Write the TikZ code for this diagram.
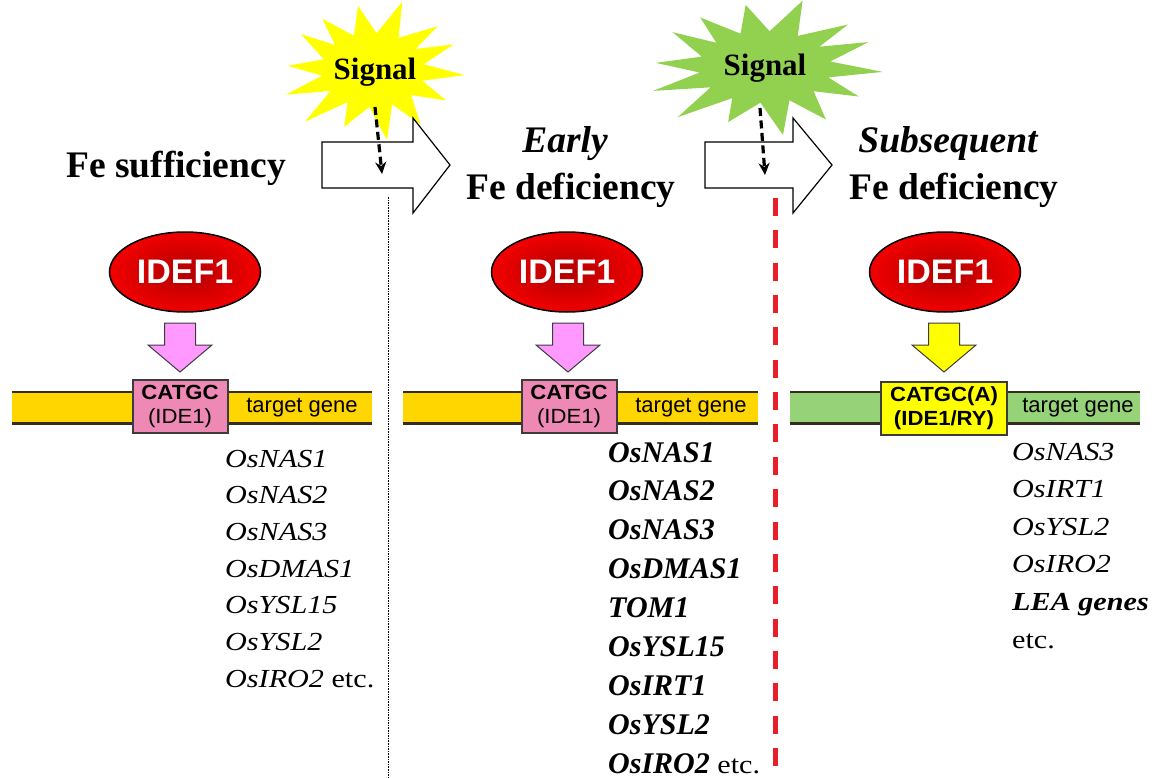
\documentclass[tikz,border=0pt]{standalone}
\usepackage{fontspec}
\setmainfont{Liberation Serif}
\setsansfont{Liberation Sans}
\newfontfamily\genefont[FakeStretch=1.16]{Liberation Serif}
\newfontfamily\motiffont[FakeStretch=1.08]{Liberation Sans}
\usetikzlibrary{shapes.geometric,arrows.meta}

\definecolor{sigyellow}{RGB}{255,255,0}
\definecolor{siggreen}{RGB}{146,208,80}
\definecolor{baryellow}{RGB}{255,214,0}
\definecolor{bargreen}{RGB}{150,210,120}
\definecolor{motifpink}{RGB}{238,136,180}
\definecolor{arrowpink}{RGB}{255,153,255}
\definecolor{boxline}{RGB}{60,60,60}
\definecolor{barline}{RGB}{50,45,30}
\definecolor{idefdark}{RGB}{176,0,0}
\definecolor{idefbright}{RGB}{242,0,0}
\definecolor{cutred}{RGB}{232,30,40}

% spiky burst: centre x, centre y, radius x, radius y, fill
\newcommand\sigburst[5]{%
  \fill[#5] plot[samples at={0,...,27}, variable=\k]
    ({#1 + (mod(\k,2)==0 ? #3*(1+0.10*sin(\k*151)) : 0.56*#3)*cos(\k*180/14+4)},
     {#2 + (mod(\k,2)==0 ? #4*(1+0.10*cos(\k*113)) : 0.56*#4)*sin(\k*180/14+4)}) -- cycle;}

% downward block arrow from the factor to its motif: centre x, fill
\newcommand\bindarrow[2]{%
  \draw[draw=boxline, line width=1, fill=#2]
    (#1-15.5,323) -- (#1+15.5,323) -- (#1+15.5,345) -- (#1+32,345) --
    (#1,372) -- (#1-32,345) -- (#1-15.5,345) -- cycle;}

% DNA strand: left x, right x, fill
\newcommand\genebar[3]{%
  \fill[#3] (#1,392) rectangle (#2,423);
  \draw[barline, line width=1.3] (#1,392) -- (#2,392);
  \draw[barline, line width=3] (#1,423) -- (#2,423);}

% wide white transition arrow: left x, neck x, tip x
\newcommand\phasearrow[3]{%
  \draw[black, line width=1.2, fill=white]
    (#1,142) -- (#2,142) -- (#2,118) -- (#3,165) -- (#2,213) -- (#2,188) -- (#1,188) -- cycle;}

\begin{document}
\begin{tikzpicture}[x=1pt, y=-1pt,
  title/.style={font=\fontsize{37.5}{40}\selectfont\bfseries, anchor=base, inner sep=0},
  signal/.style={font=\fontsize{31}{34}\selectfont\bfseries, inner sep=0},
  sigline/.style={line width=3.2, dash pattern=on 8pt off 4.5pt, -{Stealth[length=12pt, width=11pt, inset=4pt]}},
  idef/.style={ellipse, draw=black, line width=1.5, minimum width=151, minimum height=80,
    inner color=idefdark, outer color=idefbright, text=white,
    font=\sffamily\bfseries\fontsize{34}{36}\selectfont, inner sep=0},
  motif/.style={rectangle, draw=boxline, line width=2, minimum height=53, align=center,
    font=\motiffont\fontsize{20.5}{24}\selectfont, inner sep=0},
  tgt/.style={font=\sffamily\fontsize{22}{24}\selectfont, inner sep=0},
  gene/.style={font=\genefont\itshape\fontsize{26}{28}\selectfont, anchor=base west, inner sep=0},
  genebold/.style={font=\bfseries\itshape\fontsize{30}{32}\selectfont, anchor=base west, inner sep=0},
  sep/.style={line width=1, dash pattern=on 1.6pt off 1pt}
]
\useasboundingbox (0,0) rectangle (1166,778);

% ---- phase separators
\coordinate (sepA0) at (388,197);
\coordinate (sepA1) at (388,778);
\draw[sep] (sepA0) -- (sepA1);
\coordinate (sepB0) at (775,198);
\coordinate (sepB1) at (775,766);
\draw[cutred, line width=5, dash pattern=on 18pt off 14.35pt] (sepB0) -- (sepB1);

% ---- signals and transition arrows
\sigburst{373}{70}{92}{66}{sigyellow}
\sigburst{765}{67}{118}{64}{siggreen}
\phasearrow{322}{413}{450}
\phasearrow{705}{793}{832}
\node[signal] (sigA) at (375,72) {Signal};
\node[signal] (sigB) at (765,68) {Signal};
\coordinate (sigA0) at (375,107);
\coordinate (sigA1) at (382,174);
\coordinate (sigB0) at (760,108);
\coordinate (sigB1) at (765,175);
\draw[sigline] (sigA0) -- (sigA1);
\draw[sigline] (sigB0) -- (sigB1);

% ---- phase headings
\node[title] (hA) at (176,178) {Fe sufficiency};
\node[title] (hB1) at (565,153) {\itshape Early};
\node[title] (hB2) at (571,200) {Fe deficiency};
\node[title] (hC1) at (948,153) {\itshape Subsequent};
\node[title] (hC2) at (954,200) {Fe deficiency};

% ---- IDEF1 binding, three phases
\genebar{12}{372}{baryellow}
\genebar{403}{758}{baryellow}
\genebar{790}{1140}{bargreen}

\node[idef] (fA) at (185,272) {IDEF1};
\node[idef] (fB) at (567,272) {IDEF1};
\node[idef] (fC) at (945,272) {IDEF1};

\bindarrow{180}{arrowpink}
\bindarrow{568}{arrowpink}
\bindarrow{944}{sigyellow}

\node[motif, fill=motifpink, minimum width=95] (mA) at (180,406.5) {{\bfseries CATGC}\\(IDE1)};
\node[motif, fill=motifpink, minimum width=95] (mB) at (569,406.5) {{\bfseries CATGC}\\(IDE1)};
\node[motif, fill=sigyellow, minimum width=126] (mC) at (944,408.5) {{\bfseries CATGC(A)}\\{\bfseries (IDE1/RY)}};

\node[tgt] (tA) at (302,408) {target gene};
\node[tgt] (tB) at (691,408) {target gene};
\node[tgt] (tC) at (1078,408) {target gene};

% ---- regulated genes
\foreach \g [count=\i from 0] in {OsNAS1,OsNAS2,OsNAS3,OsDMAS1,OsYSL15,OsYSL2}
  \node[gene] (gA\i) at (225,{467+36.7*\i}) {\g};
\node[gene] (gA6) at (225,{467+36.7*6}) {OsIRO2 \upshape etc.};

\foreach \g [count=\i from 0] in {OsNAS1,OsNAS2,OsNAS3,OsDMAS1,TOM1,OsYSL15,OsIRT1,OsYSL2}
  \node[genebold] (gB\i) at (608,{462+38.9*\i}) {\g};
\node[genebold] (gB8) at (608,{462+38.9*8})
  {OsIRO2 {\genefont\mdseries\upshape\fontsize{26}{28}\selectfont etc.}};

\foreach \g [count=\i from 0] in {OsNAS3,OsIRT1,OsYSL2,OsIRO2}
  \node[gene] (gC\i) at (1012,{460+37.6*\i}) {\g};
\node[gene] (gC4) at (1012,{460+37.6*4}) {\bfseries LEA genes};
\node[gene] (gC5) at (1012,{460+37.6*5}) {\upshape etc.};
\end{tikzpicture}
\end{document}
